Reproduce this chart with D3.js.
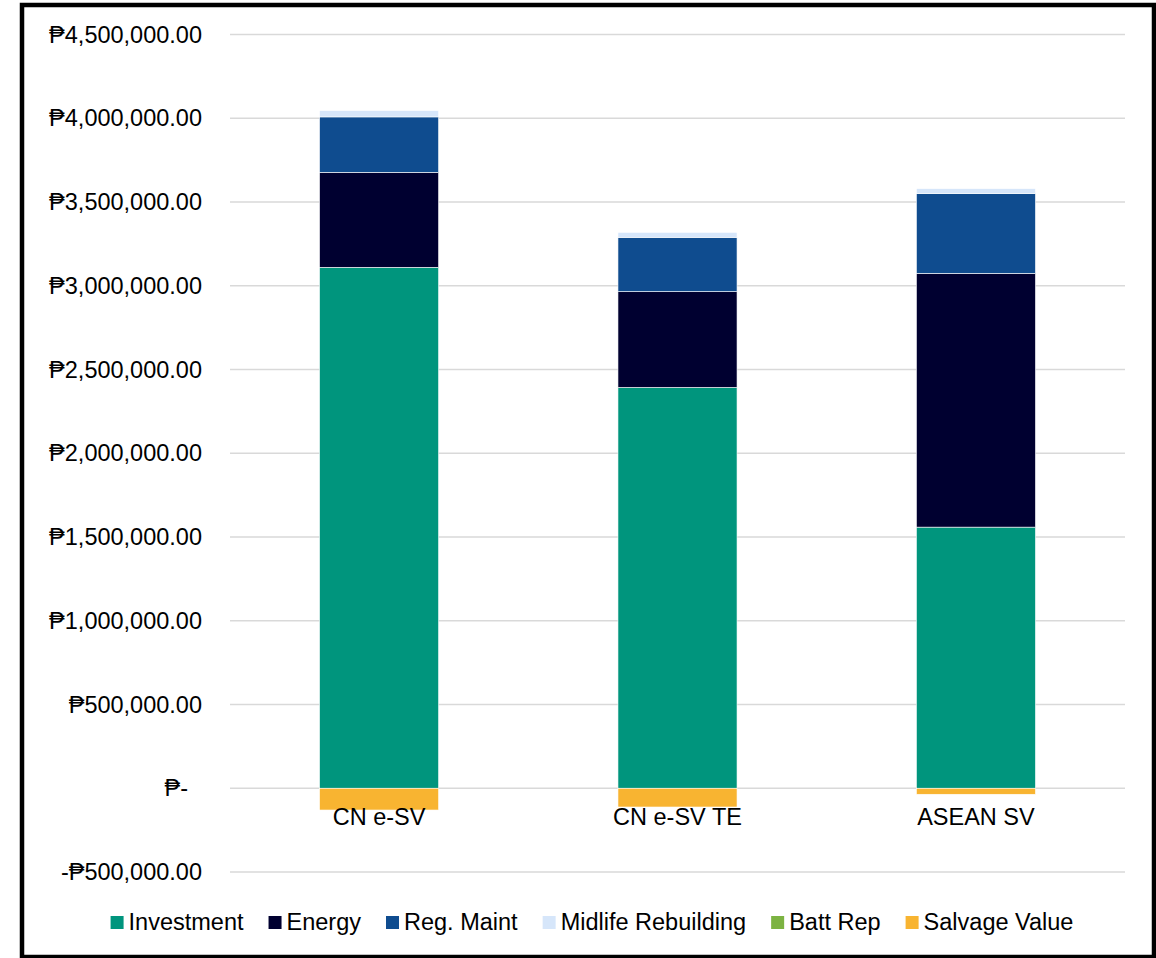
<!DOCTYPE html>
<html>
<head>
<meta charset="utf-8">
<script src="https://cdn.jsdelivr.net/npm/d3@7/dist/d3.min.js"></script>
<style>
  html, body { margin: 0; padding: 0; background: #fff; }
  svg { display: block; font-family: "Liberation Sans", Arial, sans-serif; }
</style>
</head>
<body>
<svg id="chart" width="1156" height="958"></svg>
<script>
// Lifetime cost breakdown per vehicle type (PHP)
const categories = ["CN e-SV", "CN e-SV TE", "ASEAN SV"];
const seriesNames = ["Investment", "Energy", "Reg. Maint", "Midlife Rebuilding", "Batt Rep", "Salvage Value"];
const investment = [3110000, 2393000, 1559000];
const energy = [567000, 572000, 1515000];
const regMaint = [331000, 324000, 476000];
const midlifeRebuilding = [38000, 30000, 30000];
const battRep = [0, 0, 0];
const salvageValue = [-130000, -112000, -36000];
const tickValues = [-500000, 0, 500000, 1000000, 1500000, 2000000, 2500000, 3000000, 3500000, 4000000, 4500000];
const tickLabels = ["-₱500,000.00", "₱-", "₱500,000.00", "₱1,000,000.00", "₱1,500,000.00", "₱2,000,000.00",
                    "₱2,500,000.00", "₱3,000,000.00", "₱3,500,000.00", "₱4,000,000.00", "₱4,500,000.00"];
const colors = ["#00957d", "#000030", "#0f4c8f", "#d6e6fa", "#7cb342", "#f8b431"];

const seriesValues = [investment, energy, regMaint, midlifeRebuilding, battRep, salvageValue];
const rows = categories.map((c, i) => {
  const r = { category: c };
  seriesNames.forEach((s, j) => { r[s] = seriesValues[j][i]; });
  return r;
});

const svg = d3.select("#chart");
const fontSize = 23.5;

// outer frame
svg.append("rect")
  .attr("x", 22).attr("y", 5).attr("width", 1132).attr("height", 952)
  .attr("fill", "none").attr("stroke", "#000").attr("stroke-width", 4.5);

const x = d3.scaleBand().domain(categories).range([230, 1125]).paddingInner(0.601).paddingOuter(0.3);
const y = d3.scaleLinear().domain([-500000, 4500000]).range([872, 34.5]);

// gridlines
svg.append("g")
  .selectAll("line").data(tickValues).join("line")
  .attr("x1", 230).attr("x2", 1125)
  .attr("y1", d => y(d)).attr("y2", d => y(d))
  .attr("stroke", "#d9d9d9").attr("stroke-width", 1.5);

// y axis labels
const yAxis = d3.axisLeft(y)
  .tickValues(tickValues)
  .tickSize(0)
  .tickPadding(0)
  .tickFormat((d, i) => tickLabels[i]);
const yg = svg.append("g").attr("transform", "translate(202,0)").call(yAxis);
yg.select(".domain").remove();
yg.selectAll("text")
  .attr("font-size", fontSize).attr("font-family", "Liberation Sans, Arial, sans-serif")
  .attr("fill", "#000")
  .attr("dx", d => d === 0 ? -14 : 0);

// stacked bars
const stack = d3.stack().keys(seriesNames).offset(d3.stackOffsetDiverging);
const stacked = stack(rows);

svg.append("g")
  .selectAll("g").data(stacked).join("g")
  .attr("fill", (d, i) => colors[i])
  .selectAll("rect").data(d => d).join("rect")
  .attr("x", d => x(d.data.category))
  .attr("width", x.bandwidth())
  .attr("y", d => y(Math.max(d[0], d[1])))
  .attr("height", d => Math.abs(y(d[0]) - y(d[1])))
  .attr("stroke", "#fff").attr("stroke-width", 0.6);

// category labels at the zero line
const xAxis = d3.axisBottom(x).tickSize(0).tickPadding(0);
const xg = svg.append("g").attr("transform", `translate(0,${y(0)})`).call(xAxis);
xg.select(".domain").remove();
xg.selectAll("text")
  .attr("font-size", fontSize).attr("font-family", "Liberation Sans, Arial, sans-serif")
  .attr("fill", "#000").attr("dy", "0").attr("y", 37);

// legend
const legend = svg.append("g").attr("transform", "translate(0,930)");
const items = legend.selectAll("g").data(seriesNames).join("g");
items.append("rect").attr("width", 13).attr("height", 13).attr("y", -14)
  .attr("fill", (d, i) => colors[i]);
items.append("text").attr("x", 18).attr("font-size", fontSize).attr("fill", "#000").text(d => d);
let cx = 0;
const offsets = [];
items.each(function () {
  const w = this.querySelector("text").getComputedTextLength();
  offsets.push(cx);
  cx += 18 + w + 25;
});
const total = cx - 25;
const start = 592 - total / 2;
items.attr("transform", (d, i) => `translate(${start + offsets[i]},0)`);
</script>
</body>
</html>
